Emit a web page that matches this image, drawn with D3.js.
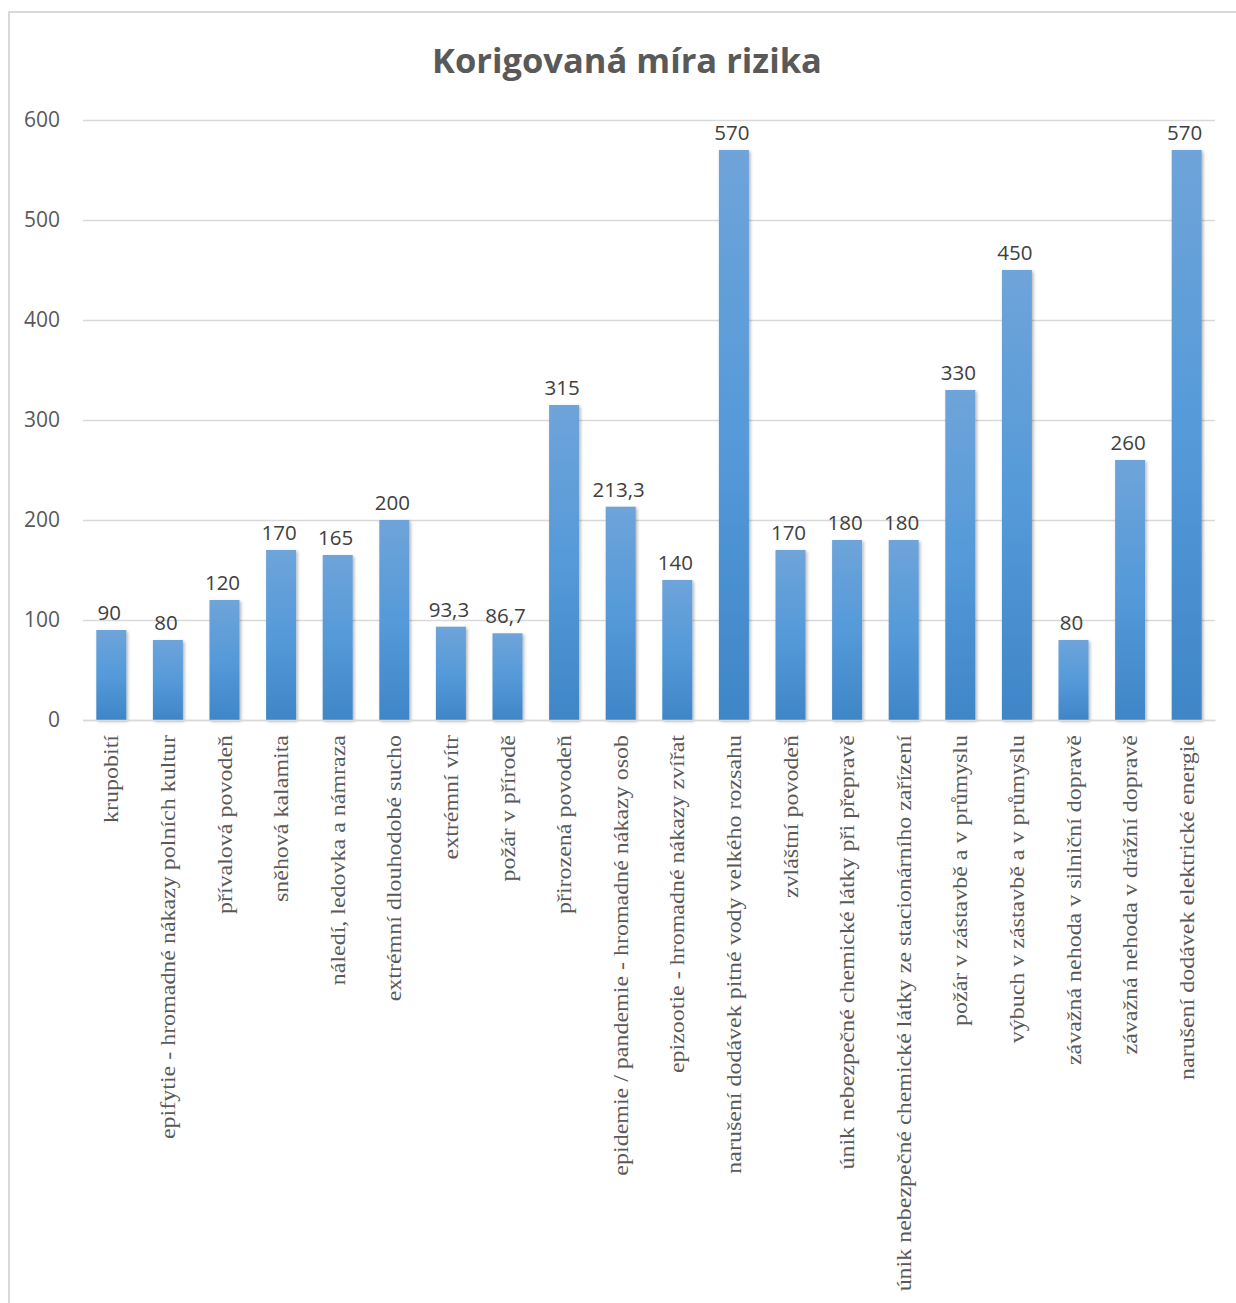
<!DOCTYPE html>
<html>
<head>
<meta charset="utf-8">
<script src="https://cdn.jsdelivr.net/npm/d3@7"></script>
<style>
  html, body { margin: 0; padding: 0; background: #fff; }
  svg { display: block; }
</style>
</head>
<body>
<svg id="chart" width="1236" height="1303"></svg>
<script>
const categories = [
  "krupobití",
  "epifytie - hromadné nákazy polních kultur",
  "přívalová povodeň",
  "sněhová kalamita",
  "náledí, ledovka a námraza",
  "extrémní dlouhodobé sucho",
  "extrémní vítr",
  "požár v přírodě",
  "přirozená povodeň",
  "epidemie / pandemie - hromadné nákazy osob",
  "epizootie - hromadné nákazy zvířat",
  "narušení dodávek pitné vody velkého rozsahu",
  "zvláštní povodeň",
  "únik nebezpečné chemické látky při přepravě",
  "únik nebezpečné chemické látky ze stacionárního zařízení",
  "požár v zástavbě a v průmyslu",
  "výbuch v zástavbě a v průmyslu",
  "závažná nehoda v silniční dopravě",
  "závažná nehoda v drážní dopravě",
  "narušení dodávek elektrické energie"
];
const values = [90, 80, 120, 170, 165, 200, 93.3, 86.7, 315, 213.3, 140, 570, 170, 180, 180, 330, 450, 80, 260, 570];
const yTicks = [0, 100, 200, 300, 400, 500, 600];
const title = "Korigovaná míra rizika";

const svg = d3.select("#chart");
const W = 1236, H = 1303;
const plot = { left: 83, right: 1215, top: 120, bottom: 720 };

// chart border (left and top visible)
svg.append("rect")
  .attr("x", 9).attr("y", 12)
  .attr("width", W + 20).attr("height", H + 20)
  .attr("fill", "#fff").attr("stroke", "#d9d9d9").attr("stroke-width", 2);

const defs = svg.append("defs");
const grad = defs.append("linearGradient").attr("id", "barGrad")
  .attr("x1", 0).attr("y1", 0).attr("x2", 0).attr("y2", 1);
grad.append("stop").attr("offset", "0%").attr("stop-color", "#6ea4d9");
grad.append("stop").attr("offset", "50%").attr("stop-color", "#559ad9");
grad.append("stop").attr("offset", "100%").attr("stop-color", "#3f86c7");
const filt = defs.append("filter").attr("id", "shadow")
  .attr("x", "-30%").attr("y", "-10%").attr("width", "160%").attr("height", "120%");
filt.append("feDropShadow").attr("dx", 1.5).attr("dy", 1.5).attr("stdDeviation", 1.5)
  .attr("flood-color", "#000").attr("flood-opacity", 0.3);

const x = d3.scaleBand().domain(categories).range([plot.left, plot.right]).paddingInner(0.47).paddingOuter(0.235);
const y = d3.scaleLinear().domain([0, 600]).range([plot.bottom, plot.top]);

// title
svg.append("text")
  .attr("x", 627).attr("y", 73)
  .attr("text-anchor", "middle")
  .attr("font-family", "'Open Sans', Carlito, Calibri, sans-serif")
  .attr("font-weight", "bold")
  .attr("font-size", 34.5)
  .attr("fill", "#595959")
  .text(title);

// gridlines
const yAxis = d3.axisLeft(y).tickValues(yTicks).tickSize(-(plot.right - plot.left)).tickPadding(23);
const gy = svg.append("g").attr("transform", `translate(${plot.left},0)`).call(yAxis);
gy.select(".domain").remove();
gy.selectAll(".tick line").attr("stroke", "#d9d9d9").attr("stroke-width", 1.5);
gy.selectAll(".tick text")
  .attr("font-family", "'Open Sans', Carlito, Calibri, sans-serif")
  .attr("font-size", 21)
  .attr("fill", "#595959");

// bars
svg.append("g").selectAll("rect").data(values).join("rect")
  .attr("x", (d, i) => x(categories[i]))
  .attr("y", d => y(d))
  .attr("width", x.bandwidth())
  .attr("height", d => y(0) - y(d))
  .attr("fill", "url(#barGrad)")
  .attr("filter", "url(#shadow)");

// data labels
svg.append("g").selectAll("text").data(values).join("text")
  .attr("x", (d, i) => x(categories[i]) + x.bandwidth() / 2 - 2)
  .attr("y", d => y(d) - 10)
  .attr("text-anchor", "middle")
  .attr("font-family", "'Open Sans', Carlito, Calibri, sans-serif")
  .attr("font-size", 20.5)
  .attr("fill", "#404040")
  .text(d => String(d).replace(".", ","));

// x axis line
const xAxis = d3.axisBottom(x).tickSize(0).tickPadding(0);
const gx = svg.append("g").attr("transform", `translate(0,${plot.bottom})`).call(xAxis);
gx.select(".domain").attr("stroke", "#d9d9d9").attr("stroke-width", 1.5);
gx.selectAll(".tick text")
  .attr("transform", "translate(0,15) rotate(-90) scale(1.17,1)")
  .attr("x", 0).attr("y", 0).attr("dy", "0.35em")
  .attr("text-anchor", "end")
  .attr("font-family", "'Liberation Serif', 'Times New Roman', serif")
  .attr("font-size", 20.5)
  .attr("fill", "#595959");
</script>
</body>
</html>
